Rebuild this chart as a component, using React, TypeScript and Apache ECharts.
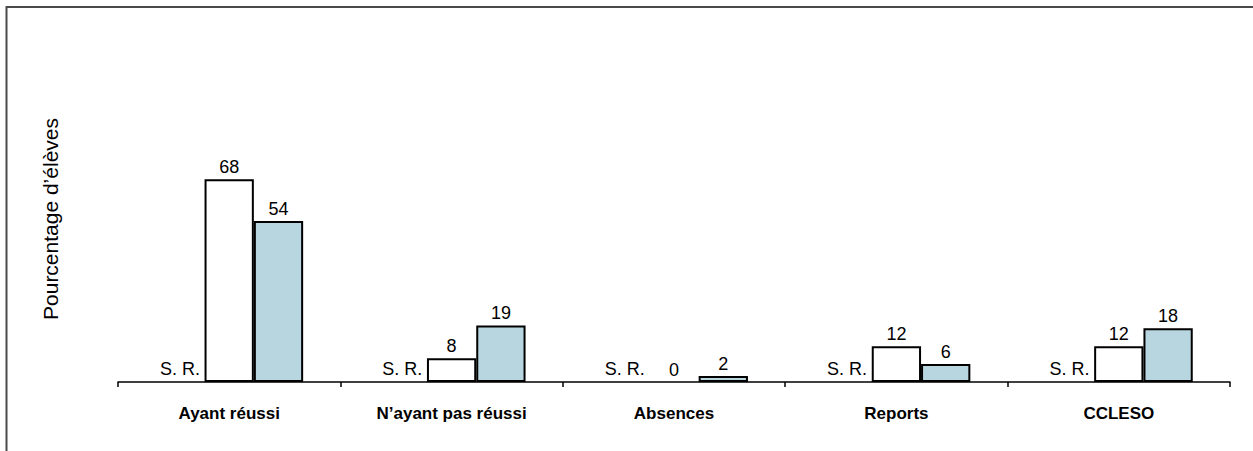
import React, { useEffect, useRef } from "react";
import * as echarts from "echarts";

const categories = ["Ayant réussi", "N’ayant pas réussi", "Absences", "Reports", "CCLESO"];
const srValues = [0, 0, 0, 0, 0];
const whiteValues = [68, 8, 0, 12, 12];
const blueValues = [54, 19, 2, 6, 18];
const yTitle = "Pourcentage d’élèves";
const srLabel = "S. R.";

const FONT = "'Liberation Sans', Arial, sans-serif";

const withZeroBorder = (vals: number[]) =>
  vals.map((v) => (v === 0 ? { value: v, itemStyle: { borderWidth: 0 } } : v));

export default function App() {
  const ref = useRef<HTMLDivElement>(null);
  useEffect(() => {
    if (!ref.current) return;
    const chart = echarts.init(ref.current, null, { renderer: "svg" });
    chart.setOption({
      animation: false,
      backgroundColor: "#ffffff",
      textStyle: { fontFamily: FONT },
      graphic: [
        {
          type: "rect",
          shape: { x: 6.5, y: 7, width: 1400, height: 600 },
          style: { fill: "none", stroke: "#4a4a4a", lineWidth: 2 },
          silent: true,
        },
        {
          type: "text",
          x: 50,
          y: 219,
          rotation: Math.PI / 2,
          style: {
            text: yTitle,
            fontSize: 21,
            fontFamily: FONT,
            fill: "#000",
            align: "center",
            verticalAlign: "middle",
          },
        },
      ],
      grid: { left: 118, right: 23, top: 84, bottom: 69, containLabel: false },
      xAxis: {
        type: "category",
        data: categories,
        axisLine: { lineStyle: { color: "#000", width: 1.5 } },
        axisTick: { show: true, length: 5, lineStyle: { color: "#000", width: 1.5 } },
        axisLabel: {
          color: "#000",
          fontSize: 17,
          fontWeight: "bold",
          fontFamily: FONT,
          margin: 23,
        },
      },
      yAxis: { type: "value", min: 0, max: 100, show: false, splitLine: { show: false } },
      series: [
        {
          type: "bar",
          data: srValues,
          barGap: "0%",
          barCategoryGap: "33.5%",
          itemStyle: { color: "transparent", borderWidth: 0 },
          label: {
            show: true,
            position: "top",
            distance: 4,
            formatter: () => srLabel,
            color: "#000",
            fontSize: 18,
            fontFamily: FONT,
          },
        },
        {
          type: "bar",
          data: withZeroBorder(whiteValues),
          barGap: "0%",
          barCategoryGap: "33.5%",
          itemStyle: { color: "#ffffff", borderColor: "#000", borderWidth: 2 },
          label: {
            show: true,
            position: "top",
            distance: 3,
            color: "#000",
            fontSize: 18,
            fontFamily: FONT,
          },
        },
        {
          type: "bar",
          data: withZeroBorder(blueValues),
          barGap: "0%",
          barCategoryGap: "33.5%",
          itemStyle: { color: "#b8d6e0", borderColor: "#000", borderWidth: 2 },
          label: {
            show: true,
            position: "top",
            distance: 3,
            color: "#000",
            fontSize: 18,
            fontFamily: FONT,
          },
        },
      ],
    });
    return () => chart.dispose();
  }, []);
  return (
    <div
      ref={ref}
      style={{ position: "fixed", left: 0, top: 0, width: 1253, height: 451 }}
    />
  );
}
